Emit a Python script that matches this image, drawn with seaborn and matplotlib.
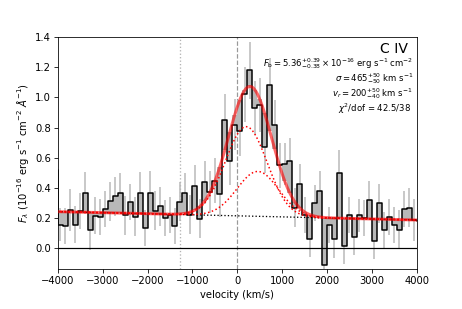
import numpy as np
import matplotlib
matplotlib.use('Agg')
import matplotlib.pyplot as plt
import seaborn as sns

sns.set_style('ticks', {'axes.edgecolor': 'k', 'xtick.color': 'k', 'ytick.color': 'k',
                        'text.color': 'k', 'axes.labelcolor': 'k'})

# ── spectrum, binned in velocity (111 km/s bins, one extra bin each side) ──
bin_width = 4000 / 36
bin_index = np.arange(-1, 73)
vel = -4000 + (bin_index + 0.5) * bin_width

flux = [0.52,
        0.158, 0.147, 0.257, 0.158, 0.246, 0.367, 0.119, 0.218, 0.207, 0.262,
        0.312, 0.345, 0.367, 0.22, 0.31, 0.21, 0.367, 0.136, 0.37, 0.25,
        0.279, 0.20, 0.22, 0.147, 0.31, 0.367, 0.224, 0.415, 0.196, 0.437,
        0.374, 0.45, 0.36, 0.85, 0.58, 0.82, 0.78, 1.02, 1.18, 0.93,
        0.95, 0.67, 1.08, 0.82, 0.55, 0.56, 0.58, 0.27, 0.43, 0.22,
        0.065, 0.30, 0.38, -0.11, 0.155, 0.06, 0.50, 0.015, 0.22, 0.075,
        0.22, 0.20, 0.32, 0.05, 0.30, 0.12, 0.21, 0.155, 0.125, 0.26,
        0.27, 0.19, 0.18]
flux_err = [0.12,
            0.11, 0.12, 0.14, 0.12, 0.12, 0.14, 0.13, 0.12, 0.12, 0.12,
            0.13, 0.13, 0.13, 0.13, 0.12, 0.13, 0.14, 0.12, 0.14, 0.13,
            0.13, 0.12, 0.12, 0.12, 0.13, 0.13, 0.13, 0.14, 0.13, 0.14,
            0.14, 0.15, 0.15, 0.17, 0.16, 0.17, 0.17, 0.18, 0.19, 0.18,
            0.18, 0.17, 0.18, 0.16, 0.15, 0.14, 0.15, 0.13, 0.13, 0.12,
            0.12, 0.12, 0.13, 0.12, 0.12, 0.12, 0.15, 0.12, 0.12, 0.12,
            0.11, 0.12, 0.13, 0.12, 0.13, 0.12, 0.12, 0.12, 0.13, 0.12,
            0.13, 0.14, 0.13]

# ── fit parameters (continuum + two gaussian components) ──
cont_zero, cont_slope = 0.216, -6.9e-6
amp_1, cen_1 = 0.592, 200
amp_2, cen_2 = 0.297, 460
sigma = 465
v_marker = -1270

def continuum(v):
    return cont_zero + cont_slope * v

def gauss(v, a, c):
    return a * np.exp(-(v - c) ** 2 / (2 * sigma ** 2))

def model(v):
    return continuum(v) + gauss(v, amp_1, cen_1) + gauss(v, amp_2, cen_2)

vgrid = np.linspace(-4300, 4300, 861)

fig, ax = plt.subplots(figsize=(6.4, 4.2715), dpi=72.34)
fig.subplots_adjust(left=0.125, right=0.9, top=0.88, bottom=0.13)

ax.fill_between(vel, flux, model(vel), step='mid', color='0.72', lw=0, zorder=1)
ax.errorbar(vel, flux, yerr=flux_err, fmt='none', ecolor='0.72', elinewidth=1.5, zorder=2)
sns.lineplot(x=vel, y=flux, drawstyle='steps-mid', color='k', lw=1.5,
             estimator=None, ax=ax, zorder=3)

ax.axhline(0, color='k', lw=1.2, zorder=2)
ax.axvline(0, color='0.6', ls='--', lw=1.2, zorder=0)
ax.axvline(v_marker, color='0.7', ls=':', lw=1.3, zorder=0)

sns.lineplot(x=vgrid, y=continuum(vgrid), color='k', ls=':', lw=1.3, ax=ax, zorder=4)
sns.lineplot(x=vgrid, y=continuum(vgrid) + gauss(vgrid, amp_1, cen_1), color='red',
             ls=':', lw=1.5, ax=ax, zorder=5)
sns.lineplot(x=vgrid, y=continuum(vgrid) + gauss(vgrid, amp_2, cen_2), color='red',
             ls=':', lw=1.5, ax=ax, zorder=5)
sns.lineplot(x=vgrid, y=model(vgrid), color='red', lw=3, alpha=0.6, ax=ax, zorder=6)

ax.set_xlim(-4000, 4000)
ax.set_ylim(-0.135, 1.4)
ax.set_xticks(np.arange(-4000, 4001, 1000))
ax.set_yticks(np.arange(0, 1.41, 0.2))
ax.set_xlabel('velocity (km/s)')
ax.set_ylabel(r'$F_\lambda$ ($10^{-16}$ erg s$^{-1}$ cm$^{-2}$ $\AA^{-1}$)')

ax.text(0.975, 0.95, 'C IV', transform=ax.transAxes, ha='right', va='center', fontsize=14)
ax.text(0.99, 0.885, r'$F_{\rm b} = 5.36^{+0.39}_{-0.38} \times 10^{-16}$ erg s$^{-1}$ cm$^{-2}$',
        transform=ax.transAxes, ha='right', va='center', fontsize=8.5)
ax.text(0.99, 0.82, r'$\sigma = 465^{+50}_{-50}$ km s$^{-1}$',
        transform=ax.transAxes, ha='right', va='center', fontsize=8.5)
ax.text(0.99, 0.755, r'$v_r = 200^{+50}_{-40}$ km s$^{-1}$',
        transform=ax.transAxes, ha='right', va='center', fontsize=8.5)
ax.text(0.985, 0.69, r'$\chi^2$/dof = 42.5/38',
        transform=ax.transAxes, ha='right', va='center', fontsize=8.5)

plt.savefig('out.png', dpi=72.34)
plt.close()
